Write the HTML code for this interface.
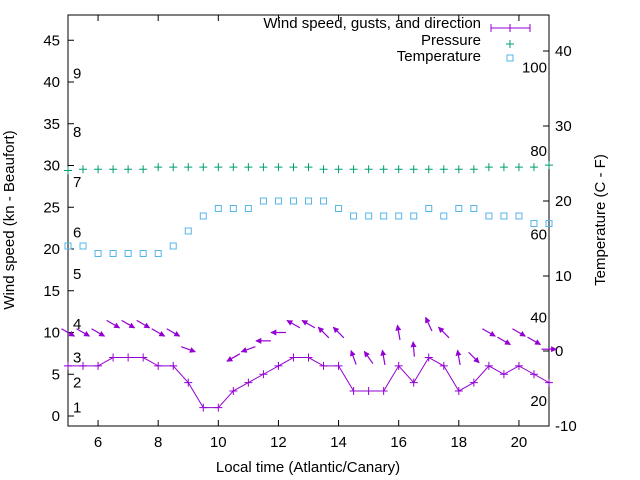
<!DOCTYPE html>
<html><head><meta charset="utf-8"><style>
body{margin:0;background:#fff}
svg{display:block;font-family:"Liberation Sans",sans-serif}
</style></head><body>
<svg id="c" width="640" height="480" viewBox="0 0 640 480">
<defs><marker id="ah" viewBox="0 0 10 10" refX="9" refY="5" markerWidth="5" markerHeight="5" orient="auto"><path d="M0,0L10,5L0,10z" fill="#9400d3"/></marker></defs>
<rect x="68" y="15" width="481" height="411" fill="none" stroke="#000"/>
<g id="ticks"></g>
<g id="marks"></g>
<text x="14" y="220" font-size="15" text-anchor="middle" transform="rotate(-90 14 220)">Wind speed (kn - Beaufort)</text>
<text x="605" y="220" font-size="15" text-anchor="middle" transform="rotate(-90 605 220)">Temperature (C - F)</text>
<text x="308" y="472" font-size="15" text-anchor="middle">Local time (Atlantic/Canary)</text>
<g>
<text x="481" y="28" font-size="15" text-anchor="end">Wind speed, gusts, and direction</text>
<path d="M491,28H530M491,24V32M530,24V32M510,24V32" stroke="#9400d3" fill="none"/>
<text x="481" y="45" font-size="15" text-anchor="end">Pressure</text>
<path d="M506,44H514M510,40V48" stroke="#009e73"/>
<text x="481" y="61" font-size="15" text-anchor="end">Temperature</text>
<rect x="507" y="55" width="6" height="6" fill="none" stroke="#56b4e9"/>
</g>
</svg>
<script>
const hours=[5,5.5,6,6.5,7,7.5,8,8.5,9,9.5,10,10.5,11,11.5,12,12.5,13,13.5,14,14.5,15,15.5,16,16.5,17,17.5,18,18.5,19,19.5,20,20.5,21];
const windSpeed=[6,6,6,7,7,7,6,6,4,1,1,3,4,5,6,7,7,6,6,3,3,3,6,4,7,6,3,4,6,5,6,5,4];
const gusts=[10,10,10,11,11,11,10,10,8,null,null,7,8,9,10,11,11,10,10,7,7,7,10,8,11,10,7,7,10,9,10,9,8];
const arrowAngle=[-30,-30,-30,-30,-30,-30,-30,-30,-20,null,null,210,200,180,180,150,150,135,135,110,125,100,100,95,115,135,100,-45,-30,-30,-30,-30,0];
const pressure=[29.4,29.55,29.55,29.55,29.55,29.55,29.8,29.8,29.8,29.8,29.8,29.8,29.8,29.8,29.8,29.8,29.8,29.55,29.55,29.55,29.55,29.55,29.55,29.55,29.55,29.55,29.55,29.55,29.8,29.8,29.8,29.8,30.05];
const tempC=[14,14,13,13,13,13,13,14,16,18,19,19,19,20,20,20,20,20,19,18,18,18,18,18,19,18,19,19,18,18,18,17,17];
const xTicks=[6,8,10,12,14,16,18,20];
const yTicks=[0,5,10,15,20,25,30,35,40,45];
const y2Ticks=[-10,0,10,20,30,40];
const fTicks=[20,40,60,80,100];
const beaufort=[1,2,3,4,5,6,7,8,9];
const beaufortKn=[1,4,7,11,17,22,28,34,41];
const NS='http://www.w3.org/2000/svg';
const X=h=>68+(h-5)*30.0625;
const Y=w=>416-w*8.35;
const Y2=c=>426-(c+10)*7.5;
const tk=document.getElementById('ticks'),mk=document.getElementById('marks');
function el(p,tag,a,txt){const e=document.createElementNS(NS,tag);for(const k in a)e.setAttribute(k,a[k]);if(txt!==undefined)e.textContent=txt;p.appendChild(e);return e;}
xTicks.forEach(t=>{const g=el(tk,'g',{});


el(g,'path',{d:`M${X(t)},426v-6M${X(t)},15v6`,stroke:'#000'});
el(g,'text',{x:X(t),y:447,'font-size':15,'text-anchor':'middle'},t);});
yTicks.forEach(t=>{const g=el(tk,'g',{});


el(g,'path',{d:`M68,${Y(t)}h6`,stroke:'#000'});
el(g,'text',{x:60,y:Y(t)+5,'font-size':15,'text-anchor':'end'},t);});
y2Ticks.forEach(t=>{const g=el(tk,'g',{});


el(g,'path',{d:`M549,${Y2(t)}h-6`,stroke:'#000'});
el(g,'text',{x:555,y:Y2(t)+5,'font-size':15},t);});
fTicks.forEach(f=>{const t=el(tk,'text',{x:547,y:Y2((f-32)*5/9)+5,'font-size':15,'text-anchor':'end'},f);

});
beaufort.forEach((b,i)=>{const t=el(tk,'text',{x:73,y:Y(beaufortKn[i])+5,'font-size':15},b);

});
// pressure
pressure.forEach((p,i)=>{const x=X(hours[i]),y=Y(p);const m=el(mk,'path',{d:`M${x-4},${y}h8M${x},${y-4}v8`,stroke:'#009e73'});

});
// temperature
tempC.forEach((c,i)=>{const x=X(hours[i]),y=Y2(c);if(x>549.5)return;const m=el(mk,'rect',{x:x-3,y:y-3,width:6,height:6,fill:'none',stroke:'#56b4e9'});

});
// wind line
const ln=el(mk,'polyline',{points:hours.map((h,i)=>X(h)+','+Y(windSpeed[i])).join(' '),fill:'none',stroke:'#9400d3'});


windSpeed.forEach((w,i)=>{const x=X(hours[i]),y=Y(w);const m=el(mk,'path',{d:`M${x-4},${y}h8M${x},${y-4}v8`,stroke:'#9400d3'});

});
// gust arrows
gusts.forEach((g,i)=>{if(g===null)return;const x=X(hours[i]),y=Y(g),a=arrowAngle[i]*Math.PI/180,L=7.5;
const dx=Math.cos(a)*L,dy=-Math.sin(a)*L;
const m=el(mk,'line',{x1:x-dx,y1:y-dy,x2:x+dx,y2:y+dy,stroke:'#9400d3','stroke-width':1.2,'marker-end':'url(#ah)'});

});
</script>
</body></html>
